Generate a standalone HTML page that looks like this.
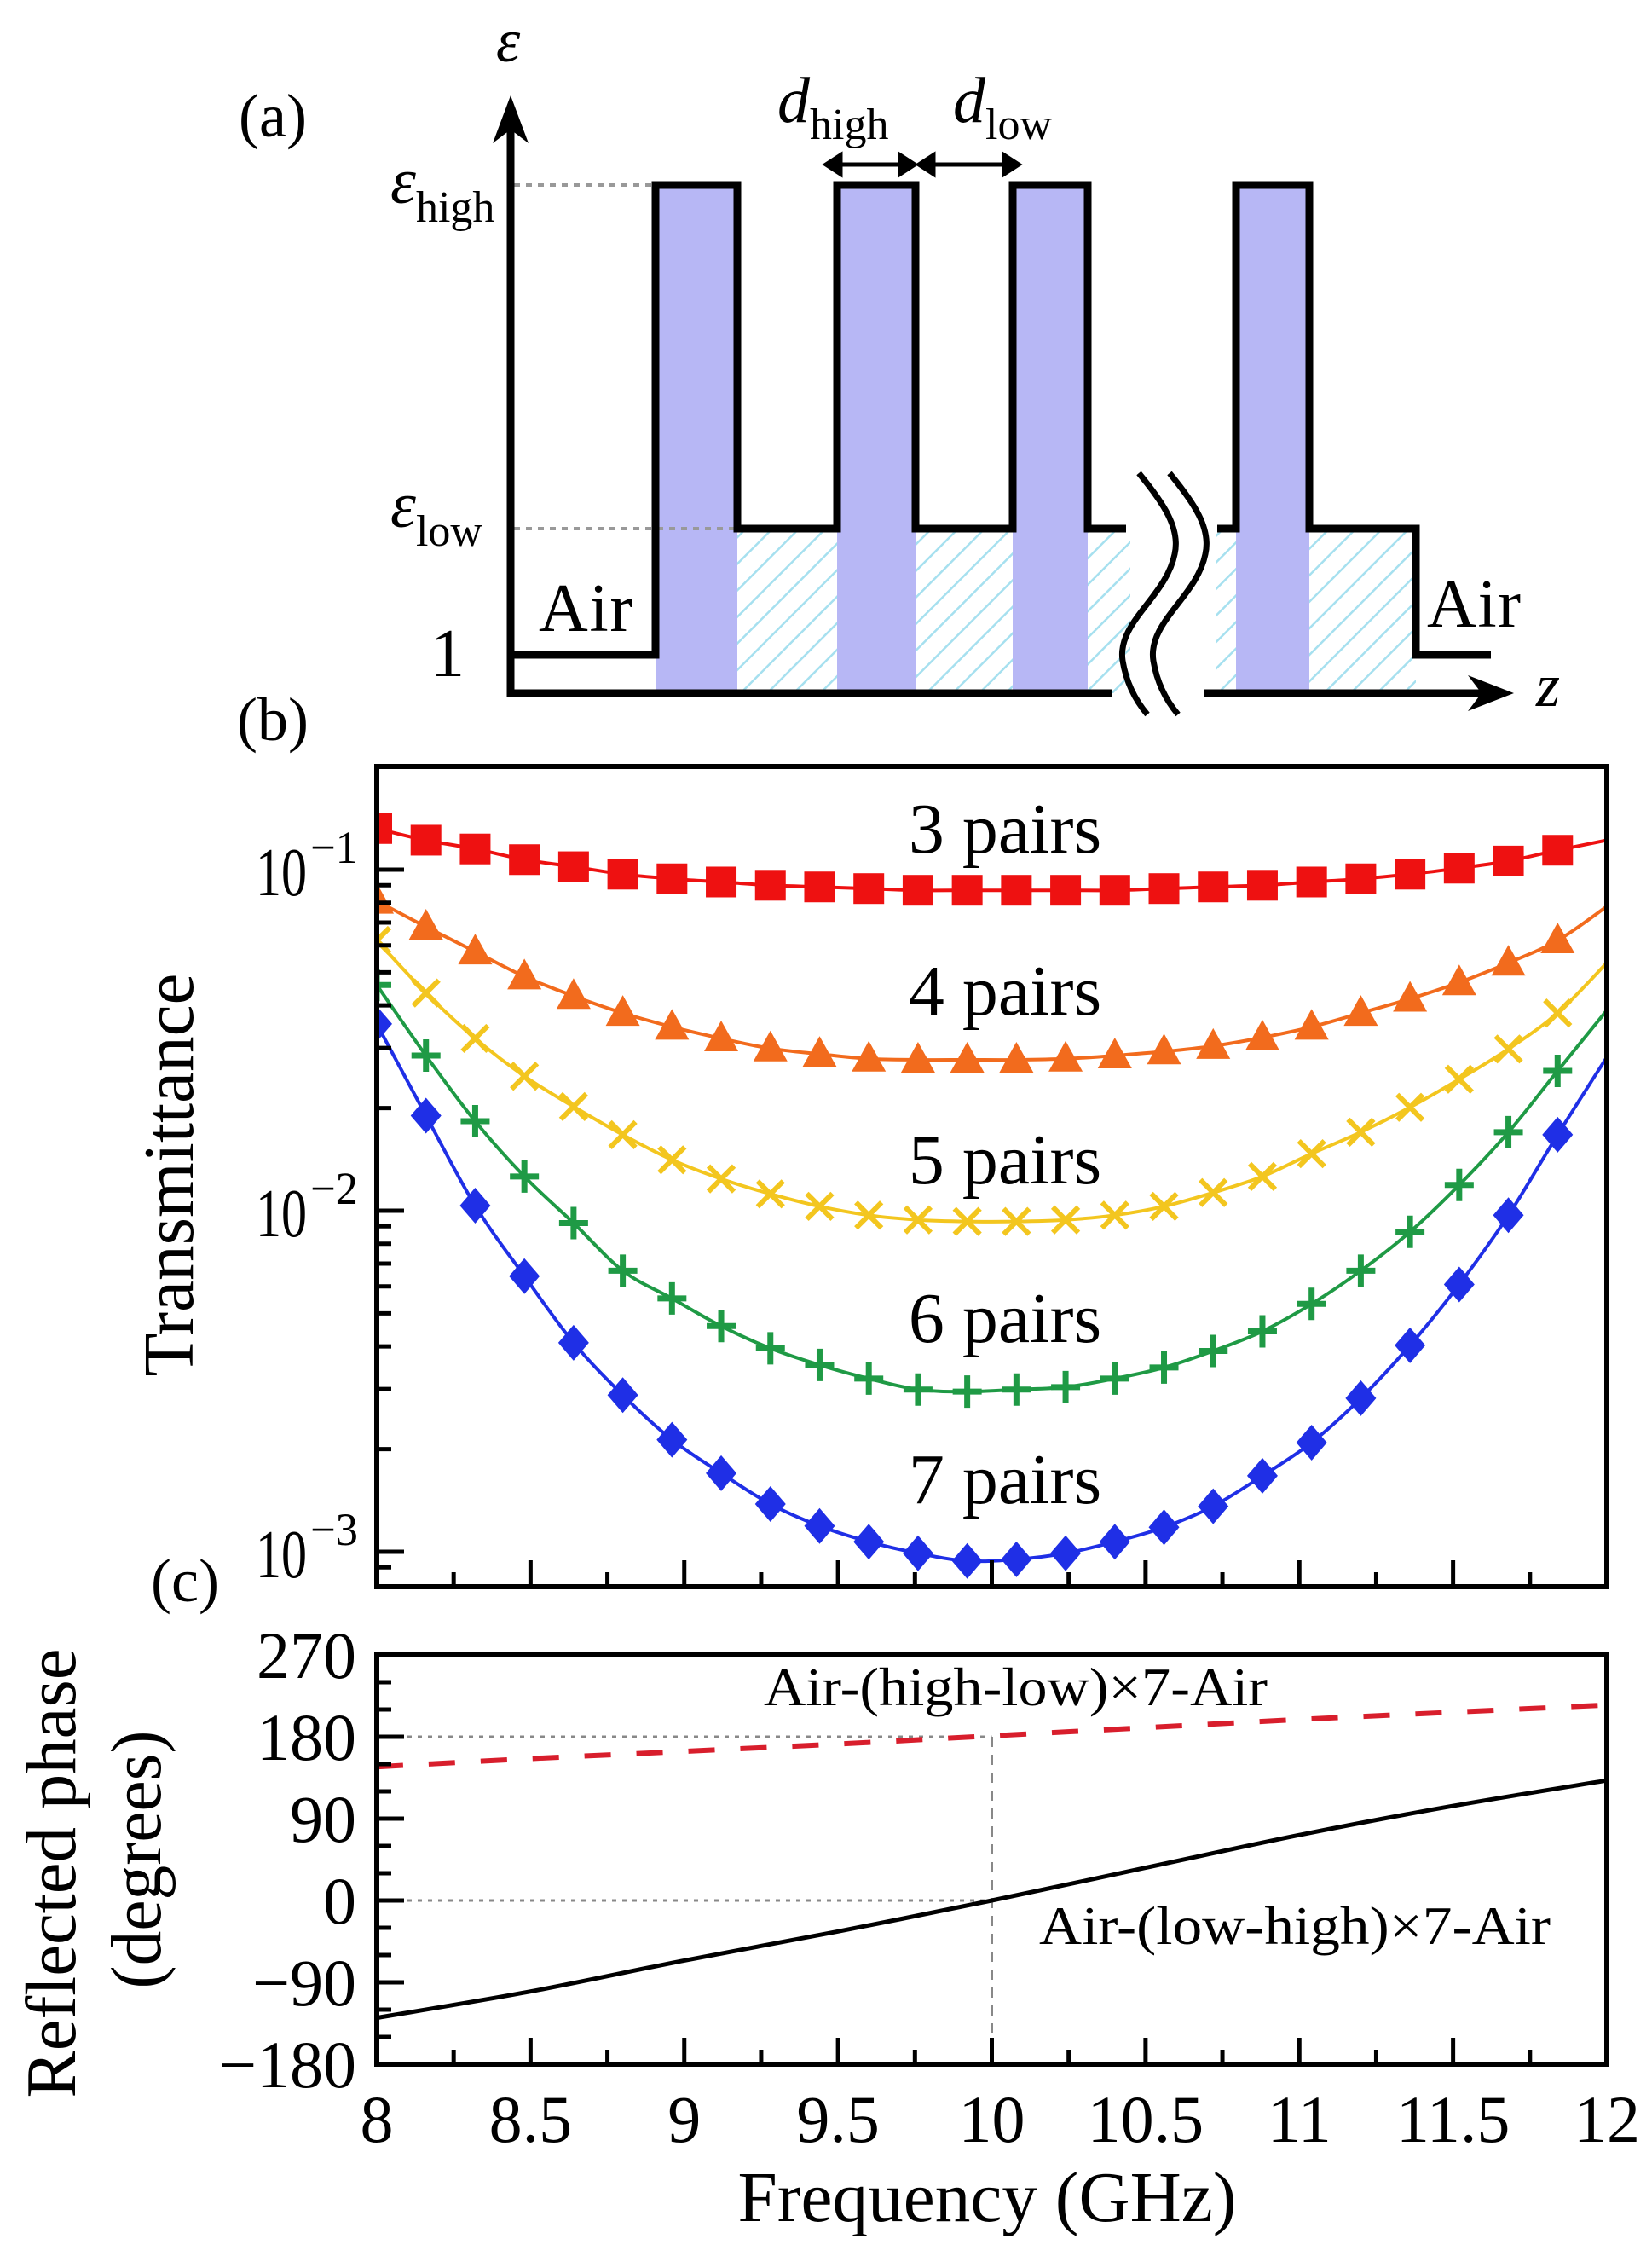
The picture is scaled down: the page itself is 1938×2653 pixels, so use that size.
<!DOCTYPE html>
<html><head><meta charset="utf-8"><title>Transmittance and reflected phase</title>
<style>
html,body{margin:0;padding:0;background:#fff;}
svg{display:block;}
text{font-family:"Liberation Serif","DejaVu Serif",serif;fill:#000;}
</style></head>
<body>
<svg id="fig" width="1938" height="2653" viewBox="0 0 1938 2653" xmlns="http://www.w3.org/2000/svg">
<defs>
<pattern id="hatch" patternUnits="userSpaceOnUse" width="22" height="22" patternTransform="rotate(45)">
<rect width="22" height="22" fill="#ffffff"/>
<line x1="0" y1="0" x2="0" y2="22" stroke="#a6e0ef" stroke-width="5"/>
</pattern>
</defs>

<g>
<text x="320" y="160" font-size="72" text-anchor="middle">(a)</text>
<g fill="#b7b7f5">
<rect x="769" y="217" width="96" height="596"/>
<rect x="982" y="217" width="92" height="596"/>
<rect x="1188" y="217" width="88" height="596"/>
<rect x="1450" y="217" width="86" height="596"/>
</g>
<g fill="url(#hatch)">
<rect x="865" y="620" width="117" height="193"/>
<rect x="1074" y="620" width="114" height="193"/>
<rect x="1276" y="620" width="50" height="193"/>
<rect x="1426" y="620" width="24" height="193"/>
<rect x="1536" y="620" width="125" height="193"/>
</g>
<line x1="603" y1="217" x2="769" y2="217" stroke="#999" stroke-width="4" stroke-dasharray="7,7"/>
<line x1="603" y1="620" x2="865" y2="620" stroke="#999" stroke-width="4" stroke-dasharray="7,7"/>
<polyline fill="none" stroke="#000" stroke-width="9" stroke-linejoin="miter"
 points="599,768 769,768 769,217 865,217 865,620 982,620 982,217 1074,217 1074,620 1188,620 1188,217 1276,217 1276,620 1321,620"/>
<polyline fill="none" stroke="#000" stroke-width="9" stroke-linejoin="miter"
 points="1428,620 1450,620 1450,217 1536,217 1536,620 1661,620 1661,768 1749,768"/>
<line x1="599" y1="817" x2="599" y2="130" stroke="#000" stroke-width="9"/>
<polygon points="599,112 578,168 599,152 620,168" fill="#000"/>
<line x1="595" y1="813" x2="1305" y2="813" stroke="#000" stroke-width="9"/>
<line x1="1413" y1="813" x2="1755" y2="813" stroke="#000" stroke-width="9"/>
<polygon points="1776,813 1722,792 1738,813 1722,834" fill="#000"/>
<path d="M1336,555 C1365,590 1385,620 1378,650 C1368,700 1310,730 1317,775 C1322,805 1335,825 1346,838" fill="none" stroke="#000" stroke-width="7"/>
<path d="M1372,555 C1401,590 1421,620 1414,650 C1404,700 1346,730 1353,775 C1358,805 1371,825 1382,838" fill="none" stroke="#000" stroke-width="7"/>
<g stroke="#000" stroke-width="5" fill="#000">
<line x1="978" y1="193" x2="1064" y2="193"/>
<polygon points="969,193 986,182 986,204"/>
<polygon points="1073,193 1056,182 1056,204"/>
</g>
<g stroke="#000" stroke-width="5" fill="#000">
<line x1="1086" y1="193" x2="1186" y2="193"/>
<polygon points="1078,193 1095,182 1095,204"/>
<polygon points="1195,193 1178,182 1178,204"/>
</g>
<text x="596" y="72" font-size="72" font-style="italic" text-anchor="middle">ε</text>
<text x="1816" y="828" font-size="72" font-style="italic" text-anchor="middle">z</text>
<text x="458" y="238" font-size="76" font-style="italic">ε<tspan font-style="normal" font-size="52" dy="22">high</tspan></text>
<text x="458" y="618" font-size="76" font-style="italic">ε<tspan font-style="normal" font-size="52" dy="22">low</tspan></text>
<text x="525" y="793" font-size="80" text-anchor="middle">1</text>
<text x="632" y="740" font-size="80" textLength="110">Air</text>
<text x="1674" y="735" font-size="80" textLength="110">Air</text>
<text x="912" y="143" font-size="76" font-style="italic">d<tspan font-style="normal" font-size="52" dy="20">high</tspan></text>
<text x="1118" y="143" font-size="76" font-style="italic">d<tspan font-style="normal" font-size="52" dy="20">low</tspan></text>
</g>

<g id="panelB"></g>
<g id="panelC"></g>
</svg>

<script>
// ---------- Panel (b) data ----------
const freqStart = 8.0;
const freqStep = 0.16;
const T3 = [0.132,0.122,0.115,0.107,0.102,0.097,0.094,0.092,0.090,0.089,0.088,0.087,0.087,0.087,0.087,0.087,0.088,0.089,0.090,0.092,0.094,0.097,0.101,0.106,0.114];
const T4 = [0.081,0.068,0.0575,0.0486,0.0426,0.038,0.0346,0.032,0.0299,0.0288,0.0279,0.0277,0.0277,0.0277,0.0279,0.0285,0.0293,0.0304,0.0322,0.0346,0.038,0.0418,0.0467,0.0533,0.062];
const T5 = [0.062,0.0435,0.032,0.0248,0.0202,0.0167,0.0141,0.0124,0.0112,0.0103,0.0097,0.0094,0.0093,0.0093,0.0094,0.0097,0.0103,0.0113,0.0126,0.0147,0.0170,0.0201,0.0243,0.0298,0.038];
const T6 = [0.0459,0.0285,0.0183,0.0126,0.0092,0.00667,0.00553,0.00459,0.00395,0.00353,0.00322,0.00299,0.00295,0.00299,0.00304,0.00322,0.00347,0.00388,0.00443,0.00533,0.00667,0.00867,0.0119,0.0170,0.0257];
const T7 = [0.0353,0.0190,0.01035,0.00643,0.0041,0.00288,0.00213,0.0017,0.00138,0.00119,0.00107,0.00099,0.00094,0.00095,0.00099,0.00107,0.00118,0.00136,0.00167,0.00209,0.00282,0.00403,0.00608,0.0097,0.0167];
const Tend = [0.122,0.078,0.0533,0.0387,0.0282];
const seriesNames = ["3 pairs","4 pairs","5 pairs","6 pairs","7 pairs"];
const bYTickExps = [-1,-2,-3];
const xTickLabels = ["8","8.5","9","9.5","10","10.5","11","11.5","12"];

// ---------- Panel (c) data ----------
const phaseFreqs = [8,8.5,9,9.5,10,10.5,11,11.5,12];
const phaseHighLow = [147,156,164,172,181,190,199,207,215];
const phaseLowHigh = [-129,-100,-66,-34,0,36,72,104,132];
const cYTicks = [270,180,90,0,-90,-180];

const NS = "http://www.w3.org/2000/svg";
function mk(tag, attrs, parent){
  const e = document.createElementNS(NS, tag);
  for (const k in attrs) e.setAttribute(k, attrs[k]);
  parent.appendChild(e);
  return e;
}
const L = 442, R = 1885;
function xScale(f){ return L + (f - 8) / 4 * (R - L); }
const bTop = 899, bBot = 1861;
function yB(v){ return 1020 - (Math.log10(v) + 1) * 400; }
const cTop = 1941, cBot = 2421;
function yC(d){ return cBot - (d + 180) / 450 * (cBot - cTop); }

function smoothPath(pts){
  let d = "M" + pts[0][0].toFixed(1) + "," + pts[0][1].toFixed(1);
  for (let i = 0; i < pts.length - 1; i++){
    const p0 = pts[Math.max(0,i-1)], p1 = pts[i], p2 = pts[i+1], p3 = pts[Math.min(pts.length-1,i+2)];
    const c1x = p1[0] + (p2[0]-p0[0])/6, c1y = p1[1] + (p2[1]-p0[1])/6;
    const c2x = p2[0] - (p3[0]-p1[0])/6, c2y = p2[1] - (p3[1]-p1[1])/6;
    d += " C" + c1x.toFixed(1)+","+c1y.toFixed(1)+" "+c2x.toFixed(1)+","+c2y.toFixed(1)+" "+p2[0].toFixed(1)+","+p2[1].toFixed(1);
  }
  return d;
}

// ---------- panel (b) ----------
const gB = document.getElementById("panelB");
const lbl = mk("text", {x:320, y:868, "font-size":72, "text-anchor":"middle"}, gB);


lbl.textContent = "(b)";

const clipB = mk("clipPath", {id:"clipB"}, gB);
mk("rect", {x:L, y:bTop, width:R-L, height:bBot-bTop}, clipB);

const colors = ["#ee1111","#f26b1d","#f3c61f","#1f9a45","#1f2fe6"];
const markerKinds = ["square","triangle","cross","plus","diamond"];
const allT = [T3,T4,T5,T6,T7];
const curvesG = mk("g", {"clip-path":"url(#clipB)"}, gB);


allT.forEach((arr, s) => {
  const pts = arr.map((v,i) => [xScale(freqStart + i*freqStep), yB(v)]);
  pts.push([xScale(12), yB(Tend[s])]);
  const line = mk("path", {d:smoothPath(pts), fill:"none", stroke:colors[s], "stroke-width":4}, curvesG);
  
  
  const mg = mk("g", {}, curvesG);
  
  
  arr.forEach((v,i) => {
    const x = xScale(freqStart + i*freqStep), y = yB(v);
    let m;
    const k = markerKinds[s];
    if (k === "square") m = mk("rect", {x:x-18, y:y-18, width:36, height:36, fill:colors[s]}, mg);
    else if (k === "triangle") m = mk("polygon", {points:`${x},${y-21} ${x-20},${y+15} ${x+20},${y+15}`, fill:colors[s]}, mg);
    else if (k === "cross") m = mk("path", {d:`M${x-15},${y-15}L${x+15},${y+15}M${x+15},${y-15}L${x-15},${y+15}`, stroke:colors[s], "stroke-width":6}, mg);
    else if (k === "plus") m = mk("path", {d:`M${x-17},${y}L${x+17},${y}M${x},${y-19}L${x},${y+19}`, stroke:colors[s], "stroke-width":7}, mg);
    else m = mk("polygon", {points:`${x},${y-21} ${x+18},${y} ${x},${y+21} ${x-18},${y}`, fill:colors[s]}, mg);
    
    
  });
});
const labelY = [1000,1190,1388,1574,1763];
seriesNames.forEach((n,s) => {
  const t = mk("text", {x:1179, y:labelY[s], "font-size":84, "text-anchor":"middle"}, gB);
  
  
  t.textContent = n;
});
const ticksB = mk("g", {stroke:"#000", "stroke-width":5}, gB);


for (let e = -4; e <= 0; e++){
  for (let m = 1; m <= 9; m++){
    const v = m * Math.pow(10, e);
    const y = yB(v);
    if (y < bTop + 3 || y > bBot - 3) continue;
    const len = m === 1 ? 32 : 17;
    mk("line", {x1:L, y1:y, x2:L+len, y2:y}, ticksB);
  }
}
for (let i = 1; i < 16; i++){
  const x = xScale(8 + i*0.25);
  const len = (i % 2 === 0) ? 31 : 17;
  mk("line", {x1:x, y1:bBot, x2:x, y2:bBot-len}, ticksB);
}
bYTickExps.forEach(e => {
  const y = yB(Math.pow(10,e));
  const t = mk("text", {x:300, y:y + 30, "font-size":80, textLength:60, lengthAdjust:"spacingAndGlyphs"}, gB);
  
  
  t.textContent = "10";
  const sp = mk("text", {x:364, y:y - 8, "font-size":54, textLength:56, lengthAdjust:"spacingAndGlyphs"}, gB);
  
  
  sp.textContent = "\u2212" + (-e);
});
const boxB = mk("rect", {x:L, y:bTop, width:R-L, height:bBot-bTop, fill:"none", stroke:"#000", "stroke-width":6}, gB);


const yTitleB = mk("text", {x:0, y:0, "font-size":84, "text-anchor":"middle", textLength:473, lengthAdjust:"spacingAndGlyphs", transform:"translate(226,1378) rotate(-90)"}, gB);


yTitleB.textContent = "Transmittance";

// ---------- panel (c) ----------
const gC = document.getElementById("panelC");
const lblC = mk("text", {x:217, y:1878, "font-size":72, "text-anchor":"middle"}, gC);


lblC.textContent = "(c)";
const guides = mk("g", {stroke:"#888", "stroke-width":3, fill:"none"}, gC);


mk("line", {x1:L, y1:yC(180), x2:xScale(10), y2:yC(180), "stroke-dasharray":"5,7"}, guides);
mk("line", {x1:L, y1:yC(0), x2:xScale(10), y2:yC(0), "stroke-dasharray":"5,7"}, guides);
mk("line", {x1:xScale(10), y1:yC(180), x2:xScale(10), y2:cBot, "stroke-dasharray":"12,9"}, guides);

const ptsHL = phaseFreqs.map((f,i) => [xScale(f), yC(phaseHighLow[i])]);
const ptsLH = phaseFreqs.map((f,i) => [xScale(f), yC(phaseLowHigh[i])]);
const lineHL = mk("path", {d:smoothPath(ptsHL), fill:"none", stroke:"#d81e2c", "stroke-width":6, "stroke-dasharray":"31,30"}, gC);


const lineLH = mk("path", {d:smoothPath(ptsLH), fill:"none", stroke:"#000", "stroke-width":5}, gC);



const ticksC = mk("g", {stroke:"#000", "stroke-width":5}, gC);


for (let d = -150; d < 270; d += 30){
  const len = (d % 90 === 0) ? 32 : 17;
  mk("line", {x1:L, y1:yC(d), x2:L+len, y2:yC(d)}, ticksC);
}
for (let i = 1; i < 16; i++){
  const x = xScale(8 + i*0.25);
  const len = (i % 2 === 0) ? 31 : 17;
  mk("line", {x1:x, y1:cBot, x2:x, y2:cBot-len}, ticksC);
}
cYTicks.forEach(v => {
  const t = mk("text", {x:418, y:yC(v)+27, "font-size":78, "text-anchor":"end"}, gC);
  
  
  t.textContent = v < 0 ? "\u2212" + (-v) : String(v);
});
xTickLabels.forEach((s,i) => {
  const t = mk("text", {x:xScale(8 + i*0.5), y:2512, "font-size":78, "text-anchor":"middle"}, gC);
  
  
  t.textContent = s;
});
const boxC = mk("rect", {x:L, y:cTop, width:R-L, height:cBot-cTop, fill:"none", stroke:"#000", "stroke-width":6}, gC);


const annHL = mk("text", {x:896, y:2000, "font-size":64, textLength:591, lengthAdjust:"spacingAndGlyphs"}, gC);


annHL.textContent = "Air-(high-low)\u00d77-Air";
const annLH = mk("text", {x:1219, y:2280, "font-size":64, textLength:600, lengthAdjust:"spacingAndGlyphs"}, gC);


annLH.textContent = "Air-(low-high)\u00d77-Air";
const yt1 = mk("text", {x:0, y:0, "font-size":84, "text-anchor":"middle", textLength:527, lengthAdjust:"spacingAndGlyphs", transform:"translate(88,2197) rotate(-90)"}, gC);


yt1.textContent = "Reflected phase";
const yt2 = mk("text", {x:0, y:0, "font-size":84, "text-anchor":"middle", textLength:303, lengthAdjust:"spacingAndGlyphs", transform:"translate(188,2181) rotate(-90)"}, gC);


yt2.textContent = "(degrees)";
const xt = mk("text", {x:1158, y:2605, "font-size":84, "text-anchor":"middle", textLength:585, lengthAdjust:"spacingAndGlyphs"}, gC);


xt.textContent = "Frequency (GHz)";
</script>
</body></html>
